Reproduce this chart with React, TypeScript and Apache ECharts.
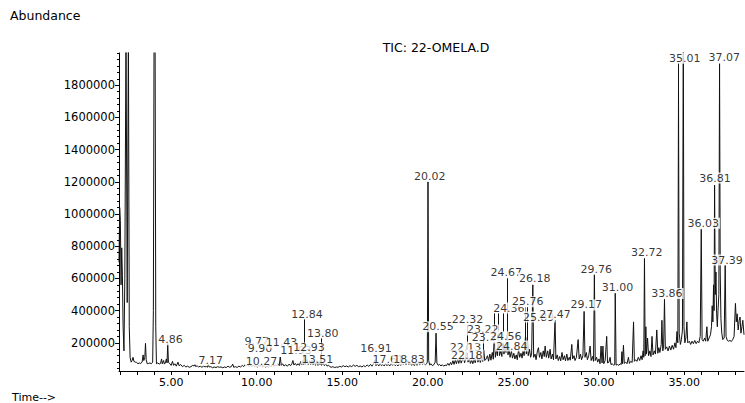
import React, { useEffect, useRef } from "react";
import * as echarts from "echarts";

const FONT = "DejaVu Sans";

// Total ion chromatogram, [retention time (min), abundance]
const segA: [number, number][] = [
  [1.95, 700000], [1.99, 1040000], [2.03, 960000], [2.07, 560000], [2.11, 790000], [2.15, 620000],
  [2.19, 300000], [2.24, 150000], [2.29, 600000], [2.36, 2150000], [2.43, 450000], [2.5, 2150000],
  [2.55, 300000], [2.6, 110000], [2.66, 80000], [2.72, 90000], [2.77, 110000], [2.82, 85000],
  [2.9, 80000], [2.98, 78000], [3.06, 70000], [3.14, 75000], [3.22, 72000], [3.3, 80000],
  [3.36, 125000], [3.4, 90000], [3.46, 110000], [3.5, 197000], [3.54, 95000], [3.6, 70000],
  [3.68, 72000], [3.76, 75000], [3.84, 70000], [3.92, 80000], [3.96, 400000], [4.0, 2150000],
  [4.06, 2150000], [4.1, 300000], [4.14, 70000], [4.22, 75000], [4.3, 68000], [4.38, 72000],
  [4.44, 100000], [4.48, 70000], [4.56, 90000], [4.6, 68000], [4.66, 75000], [4.72, 100000],
  [4.76, 75000], [4.8, 197000], [4.84, 80000], [4.92, 70000],
];

const segB: [number, number][] = [
  [5.0, 60000], [5.08, 85000], [5.14, 60000], [5.22, 70000], [5.3, 55000], [5.4, 80000],
  [5.46, 58000], [5.56, 65000], [5.66, 52000], [5.76, 60000], [5.86, 50000], [5.96, 55000],
  [6.06, 48000], [6.16, 52000], [6.26, 60000], [6.34, 56000], [6.39, 64000], [6.44, 52000],
  [6.52, 58000], [6.6, 50000], [6.7, 55000], [6.8, 48000], [6.9, 56000], [6.98, 50000],
  [7.06, 54000], [7.12, 48000], [7.17, 66000], [7.22, 50000], [7.32, 52000], [7.42, 45000],
  [7.52, 50000], [7.62, 46000], [7.72, 52000], [7.82, 48000], [7.92, 50000], [8.02, 45000],
  [8.12, 50000], [8.22, 46000], [8.32, 55000], [8.42, 48000], [8.52, 52000], [8.6, 68000],
  [8.66, 48000], [8.76, 52000], [8.86, 47000], [8.96, 55000], [9.06, 50000], [9.16, 60000],
  [9.24, 52000], [9.32, 64000], [9.4, 55000], [9.48, 66000], [9.56, 52000], [9.64, 60000],
  [9.72, 50000], [9.8, 62000], [9.88, 52000], [9.96, 58000], [10.04, 48000], [10.12, 62000],
  [10.2, 52000], [10.28, 66000], [10.36, 50000], [10.44, 58000], [10.52, 48000], [10.6, 55000],
  [10.68, 50000], [10.76, 62000], [10.84, 52000], [10.92, 66000], [11.0, 54000], [11.08, 64000],
  [11.16, 55000], [11.24, 70000], [11.32, 58000], [11.38, 112000], [11.44, 60000], [11.52, 70000],
  [11.6, 56000], [11.7, 64000], [11.8, 55000], [11.9, 68000], [11.98, 58000], [12.06, 70000],
  [12.12, 90000], [12.18, 62000], [12.26, 72000], [12.34, 60000], [12.42, 70000], [12.5, 60000],
  [12.58, 85000], [12.64, 62000], [12.7, 90000], [12.74, 64000], [12.78, 140000], [12.83, 66000],
  [12.9, 85000], [12.96, 95000], [13.02, 62000], [13.1, 90000], [13.16, 64000], [13.24, 92000],
  [13.3, 62000], [13.38, 85000], [13.44, 60000], [13.52, 88000], [13.58, 60000], [13.66, 82000],
  [13.71, 62000], [13.75, 128000], [13.8, 60000], [13.88, 75000], [13.96, 58000], [14.04, 70000],
  [14.12, 55000], [14.2, 62000], [14.28, 52000], [14.36, 48000], [14.46, 52000], [14.56, 46000],
  [14.66, 50000], [14.76, 48000], [14.86, 54000], [14.96, 50000], [15.06, 58000], [15.16, 52000],
  [15.26, 56000], [15.36, 50000], [15.46, 58000], [15.56, 52000], [15.66, 62000], [15.76, 54000],
  [15.86, 60000], [15.96, 52000], [16.06, 56000], [16.16, 50000], [16.26, 58000], [16.36, 52000],
  [16.46, 62000], [16.56, 54000], [16.66, 66000], [16.74, 55000], [16.82, 68000], [16.91, 95000],
  [16.98, 58000], [17.06, 70000], [17.14, 56000], [17.22, 72000], [17.3, 58000], [17.38, 66000],
  [17.46, 56000], [17.54, 72000], [17.62, 58000], [17.7, 68000], [17.78, 56000], [17.86, 72000],
  [17.94, 60000], [18.02, 70000], [18.1, 58000], [18.18, 66000], [18.26, 56000], [18.34, 70000],
  [18.42, 60000], [18.5, 75000], [18.58, 62000], [18.66, 80000], [18.74, 62000], [18.83, 90000],
  [18.9, 64000], [18.98, 78000], [19.06, 60000], [19.14, 72000], [19.22, 58000], [19.3, 76000],
  [19.38, 60000], [19.46, 82000], [19.54, 62000], [19.62, 88000], [19.7, 64000], [19.78, 80000],
  [19.86, 62000], [19.94, 70000],
];

const segC: [number, number][] = [
  [19.98, 80000], [20.02, 1200000], [20.06, 90000], [20.12, 62000], [20.2, 70000], [20.28, 58000],
  [20.36, 64000], [20.44, 80000], [20.49, 260000], [20.54, 75000], [20.62, 60000], [20.7, 66000],
  [20.78, 56000], [20.86, 64000], [20.94, 55000], [21.02, 62000], [21.1, 58000], [21.18, 72000],
  [21.26, 60000], [21.34, 78000], [21.4, 64000], [21.48, 90000], [21.54, 66000], [21.62, 95000],
  [21.68, 70000], [21.76, 100000], [21.82, 72000], [21.9, 105000], [21.96, 74000], [22.04, 98000],
  [22.1, 110000], [22.16, 76000], [22.22, 100000], [22.3, 185000], [22.36, 80000], [22.44, 105000],
  [22.5, 72000], [22.58, 92000], [22.64, 70000], [22.72, 100000], [22.78, 76000], [22.87, 125000],
  [22.94, 80000], [23.02, 105000], [23.08, 78000], [23.16, 110000], [23.22, 84000], [23.28, 155000],
  [23.34, 90000], [23.42, 100000], [23.5, 120000], [23.56, 86000], [23.64, 130000], [23.7, 92000],
  [23.78, 140000], [23.84, 98000], [23.9, 265000], [23.96, 110000], [24.02, 160000], [24.08, 120000],
  [24.14, 270000], [24.2, 120000], [24.28, 150000], [24.34, 115000], [24.4, 265000], [24.46, 130000],
  [24.52, 170000], [24.58, 140000], [24.64, 250000], [24.7, 125000], [24.76, 165000], [24.82, 110000],
  [24.9, 150000], [24.96, 105000], [25.04, 135000], [25.1, 100000], [25.18, 125000], [25.24, 95000],
  [25.32, 160000], [25.38, 110000], [25.46, 135000], [25.52, 105000], [25.58, 150000], [25.64, 120000],
  [25.72, 236000], [25.77, 130000], [25.83, 236000], [25.88, 120000], [25.96, 160000], [26.02, 110000],
  [26.08, 130000], [26.15, 560000], [26.2, 110000], [26.28, 130000], [26.34, 95000], [26.42, 150000],
  [26.48, 170000], [26.54, 110000], [26.62, 140000], [26.68, 100000], [26.76, 150000], [26.82, 115000],
  [26.87, 180000], [26.94, 110000], [27.02, 150000], [27.08, 105000], [27.16, 160000], [27.22, 100000],
  [27.3, 130000], [27.36, 95000], [27.45, 340000], [27.5, 100000], [27.58, 125000], [27.64, 90000],
  [27.72, 115000], [27.78, 88000], [27.86, 140000], [27.92, 95000], [28.0, 120000], [28.06, 88000],
  [28.14, 130000], [28.2, 90000], [28.28, 110000], [28.34, 92000], [28.43, 190000], [28.48, 100000],
  [28.56, 120000], [28.62, 90000], [28.7, 110000], [28.8, 220000], [28.86, 100000], [28.94, 130000],
  [29.0, 95000], [29.08, 120000], [29.15, 395000], [29.2, 110000], [29.28, 140000], [29.34, 95000],
  [29.42, 120000], [29.5, 180000], [29.56, 90000], [29.64, 115000], [29.7, 85000], [29.75, 625000],
  [29.8, 90000], [29.88, 110000], [29.94, 80000],
];

const segD: [number, number][] = [
  [30.02, 100000], [30.08, 70000], [30.14, 180000], [30.2, 75000], [30.25, 180000], [30.3, 70000],
  [30.38, 90000], [30.47, 240000], [30.52, 75000], [30.6, 80000], [30.67, 110000], [30.72, 65000],
  [30.8, 70000], [30.88, 60000], [30.94, 65000], [30.97, 510000], [31.02, 62000], [31.1, 65000],
  [31.18, 60000], [31.26, 70000], [31.32, 65000], [31.36, 145000], [31.4, 70000], [31.45, 185000],
  [31.5, 72000], [31.58, 80000], [31.66, 70000], [31.74, 110000], [31.8, 72000], [31.88, 85000],
  [31.96, 78000], [32.04, 330000], [32.09, 85000], [32.16, 95000], [32.24, 85000], [32.32, 110000],
  [32.4, 90000], [32.48, 120000], [32.54, 95000], [32.6, 150000], [32.64, 110000], [32.68, 727000],
  [32.72, 120000], [32.76, 300000], [32.8, 130000], [32.86, 230000], [32.92, 120000], [33.0, 150000],
  [33.06, 115000], [33.12, 240000], [33.18, 125000], [33.26, 150000], [33.32, 130000], [33.4, 280000],
  [33.46, 135000], [33.52, 170000], [33.58, 140000], [33.66, 190000], [33.7, 340000], [33.75, 150000],
  [33.8, 180000], [33.85, 470000], [33.9, 160000], [33.98, 175000], [34.06, 150000], [34.14, 180000],
  [34.22, 155000], [34.3, 185000], [34.38, 160000], [34.46, 200000], [34.52, 170000], [34.58, 270000],
  [34.63, 200000], [34.67, 1770000], [34.71, 260000], [34.78, 190000], [34.84, 220000], [34.9, 280000],
  [34.95, 2150000], [34.99, 300000], [35.04, 200000], [35.1, 230000], [35.16, 330000], [35.21, 200000],
  [35.3, 210000], [35.38, 190000], [35.46, 210000], [35.54, 195000], [35.62, 215000], [35.7, 195000],
  [35.78, 210000], [35.86, 200000], [35.94, 240000], [36.0, 905000], [36.05, 220000], [36.12, 210000],
  [36.2, 230000], [36.26, 210000], [36.33, 300000], [36.38, 210000], [36.46, 230000], [36.54, 250000],
  [36.6, 300000], [36.64, 430000], [36.68, 330000], [36.72, 560000], [36.75, 400000], [36.78, 1180000],
  [36.82, 500000], [36.86, 640000], [36.9, 380000], [36.94, 300000], [36.98, 400000], [37.03, 500000],
  [37.07, 1935000], [37.11, 640000], [37.15, 350000], [37.2, 260000], [37.26, 220000], [37.34, 230000],
  [37.4, 683000], [37.45, 240000], [37.52, 215000], [37.6, 210000], [37.68, 215000], [37.76, 208000],
  [37.84, 220000], [37.92, 240000], [38.0, 445000], [38.05, 330000], [38.1, 380000], [38.16, 280000],
  [38.22, 340000], [38.27, 360000], [38.32, 260000], [38.38, 300000], [38.43, 340000], [38.5, 250000],
];

// Peak labels: text, anchor [time, abundance]
const peakLabels: string[] = [
  "4.86", "7.17", "9.77", "9.90", "10.27", "11.43", "11.93", "12.84", "12.93", "13.51", "13.80",
  "16.91", "17.61", "18.83", "20.02", "20.55", "22.13", "22.18", "22.32", "23.22", "23.36", "24.36",
  "24.67", "24.56", "24.84", "25.76", "25.89", "26.18", "27.47", "29.17", "29.76", "31.00", "32.72",
  "33.86", "35.01", "36.03", "36.81", "37.07", "37.39",
];
const peakLabelTimes: number[] = [
  4.96, 7.31, 10.0, 10.2, 10.29, 11.45, 12.3, 12.95, 13.06, 13.56, 13.86,
  16.98, 17.7, 18.91, 20.12, 20.61, 22.22, 22.29, 22.33, 23.22, 23.5, 24.75,
  24.6, 24.57, 24.92, 25.85, 26.49, 26.26, 27.45, 29.27, 29.86, 31.1, 32.82,
  33.99, 35.04, 36.12, 36.8, 37.34, 37.5,
];
const peakLabelLevels: number[] = [
  219000, 93000, 208000, 162000, 83000, 199000, 155000, 379000, 168000, 99500, 261000,
  162000, 99500, 99500, 1236000, 300000, 174000, 124000, 342000, 280000, 230000, 416000,
  635000, 238000, 180000, 455000, 360000, 602000, 379000, 435000, 657000, 542000, 760000,
  507000, 1967000, 942000, 1223000, 1969000, 714000,
];

// Leader lines from displaced labels down to their peaks: [time, peak top, label bottom]
const leaderLines: [number, number, number][] = [
  [12.78, 140000, 348000],
  [13.75, 128000, 230000],
  [22.3, 185000, 311000],
  [23.28, 155000, 249000],
  [23.9, 265000, 385000],
  [24.14, 270000, 385000],
  [24.4, 265000, 385000],
  [24.64, 250000, 602000],
  [25.72, 236000, 422000],
  [25.83, 236000, 422000],
  [34.67, 1770000, 1937000],
];

const xTickValues: number[] = [
  2, 3, 4, 5, 6, 7, 8, 9, 10, 11, 12, 13, 14, 15, 16, 17, 18, 19, 20,
  21, 22, 23, 24, 25, 26, 27, 28, 29, 30, 31, 32, 33, 34, 35, 36, 37, 38,
];
const xLabelValues: number[] = [5, 10, 15, 20, 25, 30, 35];
const yLabelValues: number[] = [
  200000, 400000, 600000, 800000, 1000000, 1200000, 1400000, 1600000, 1800000,
];
const yMinorStep = 40000;

export default function App() {
  const ref = useRef<HTMLDivElement>(null);

  useEffect(() => {
    if (!ref.current) return;
    const chart = echarts.init(ref.current, null, { renderer: "svg" });
    const tic = [...segA, ...segB, ...segC, ...segD];
    const yMinor: number[] = [];
    for (let v = yMinorStep; v <= 2000000; v += yMinorStep) yMinor.push(v);

    const option: any = {
      animation: false,
      backgroundColor: "#fff",
      grid: { left: 119, top: 53, width: 625, height: 318 },
      xAxis: {
        type: "value",
        min: 1.95,
        max: 38.5,
        axisLine: { show: true, lineStyle: { color: "#000", width: 1 } },
        axisTick: { show: true, length: 4, customValues: xTickValues, lineStyle: { color: "#000" } },
        axisLabel: {
          customValues: xLabelValues,
          formatter: (v: number) => v.toFixed(2),
          color: "#000",
          fontSize: 11,
          fontFamily: FONT,
          margin: 6,
        },
        splitLine: { show: false },
      },
      yAxis: [
        {
          type: "value",
          min: 25000,
          max: 2000000,
          axisLine: { show: true, lineStyle: { color: "#000", width: 1 } },
          axisTick: { show: true, length: 4, customValues: yLabelValues, lineStyle: { color: "#000" } },
          axisLabel: {
            customValues: yLabelValues,
            formatter: (v: number) => String(v),
            color: "#000",
            fontSize: 11.5,
            fontFamily: FONT,
            margin: 4,
          },
          splitLine: { show: false },
        },
        {
          type: "value",
          min: 25000,
          max: 2000000,
          position: "left",
          axisLine: { show: false },
          axisTick: { show: true, length: 2, customValues: yMinor, lineStyle: { color: "#000" } },
          axisLabel: { show: false },
          splitLine: { show: false },
        },
      ],
      series: [
        {
          type: "line",
          data: tic,
          showSymbol: false,
          symbol: "none",
          clip: true,
          z: 2,
          silent: true,
          lineStyle: { color: "#111", width: 1 },
          markLine: {
            silent: true,
            symbol: ["none", "none"],
            animation: false,
            label: { show: false },
            lineStyle: { color: "#111", width: 1, type: "solid" },
            data: leaderLines.map(([t, lo, hi]) => [{ coord: [t, lo] }, { coord: [t, hi] }]),
          },
        },
        {
          type: "scatter",
          z: 5,
          silent: true,
          symbolSize: 1,
          itemStyle: { color: "rgba(0,0,0,0)" },
          data: peakLabels.map((name, i) => ({
            name,
            value: [peakLabelTimes[i], peakLabelLevels[i]],
          })),
          label: {
            show: true,
            position: "inside",
            formatter: (p: any) => p.name,
            color: "#000",
            fontSize: 11,
            fontFamily: FONT,
            backgroundColor: "#fff",
            padding: [0, 1, 0, 1],
            lineHeight: 11,
          },
        },
      ],
      graphic: [
        {
          type: "text",
          left: 10,
          top: 9,
          style: { text: "Abundance", fill: "#000", font: `12.5px "${FONT}"` },
        },
        {
          type: "text",
          left: 12,
          top: 392,
          style: { text: "Time-->", fill: "#000", font: `11px "${FONT}"` },
        },
        {
          type: "text",
          x: 436,
          y: 47,
          style: {
            text: "TIC: 22-OMELA.D",
            fill: "#000",
            font: `12.5px "${FONT}"`,
            align: "center",
            verticalAlign: "middle",
            textAlign: "center",
            textVerticalAlign: "middle",
          },
        },
      ],
    };

    chart.setOption(option);
    return () => chart.dispose();
  }, []);

  return (
    <div
      ref={ref}
      style={{ position: "fixed", left: 0, top: 0, width: 745, height: 403, background: "#fff" }}
    />
  );
}
